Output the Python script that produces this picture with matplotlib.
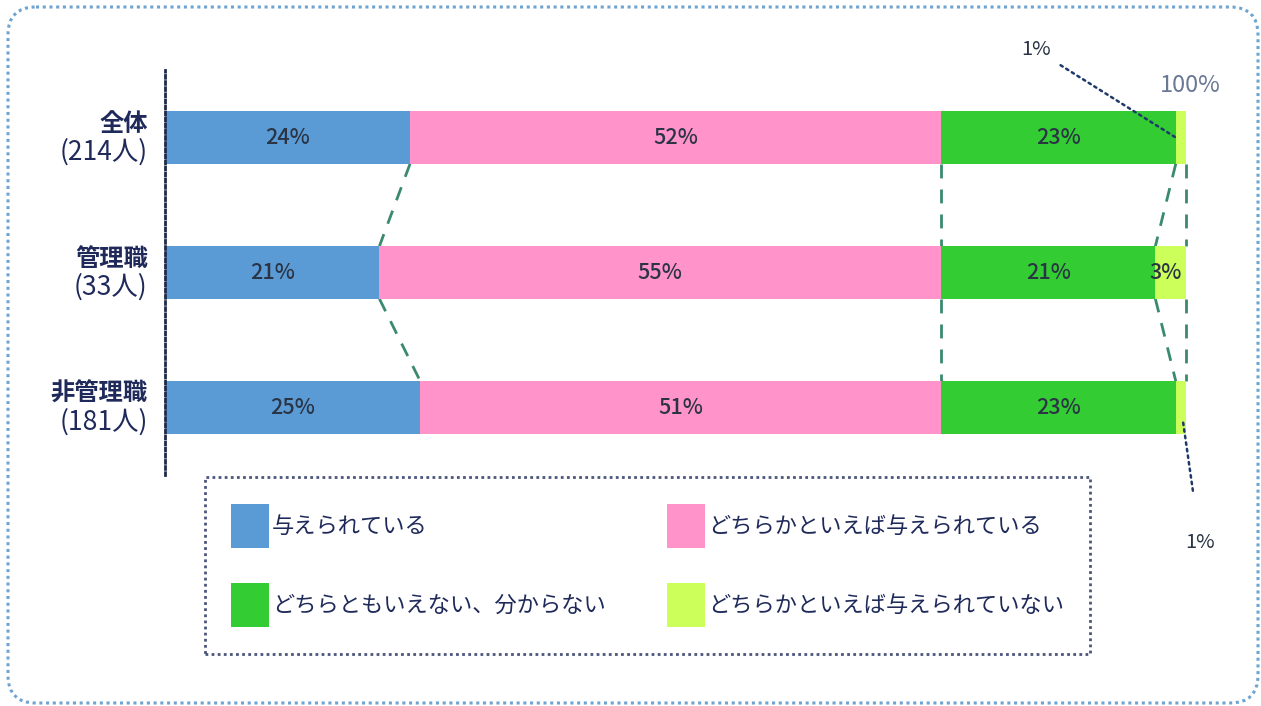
import numpy as np
import matplotlib
matplotlib.use("Agg")
import matplotlib.pyplot as plt
from matplotlib.patches import FancyBboxPatch

plt.rcParams['font.family'] = ['Noto Sans CJK JP', 'DejaVu Sans']

# survey data (%)
groups = ['全体', '管理職', '非管理職']
counts = [214, 33, 181]
answers = ['与えられている', 'どちらかといえば与えられている',
           'どちらともいえない、分からない', 'どちらかといえば与えられていない']
given = [24, 21, 25]
rather_given = [52, 55, 51]
unsure = [23, 21, 23]
rather_not = [1, 3, 1]

colors = ['#5B9BD5', '#FF93CA', '#33CC33', '#CCFF5A']
navy = '#1F2A5A'
pct_color = '#2A3444'
link_color = '#3A8A6E'

series = np.array([given, rather_given, unsure, rather_not], dtype=float)
cum = np.vstack([np.zeros(len(groups)), np.cumsum(series, axis=0)])
bar_h = 0.39

fig = plt.figure(figsize=(12.61, 7.06), dpi=100)

# background frame in pixel coordinates
bg = fig.add_axes([0, 0, 1, 1], zorder=-1)
bg.set_xlim(0, 1261)
bg.set_ylim(706, 0)
bg.axis('off')
bg.add_patch(FancyBboxPatch((8, 7), 1250, 696, boxstyle='round,pad=0,rounding_size=28',
                            fill=False, ec='#6FA3D0', lw=2.2, ls=(0, (1, 1.2))))

ax = fig.add_axes([165 / 1261, 1 - 475 / 706, 1021 / 1261, 405 / 706])
ax.set_facecolor('none')
y = np.arange(len(groups))

bars = []
for k in range(len(answers)):
    b = ax.barh(y, series[k], left=cum[k], height=bar_h, color=colors[k],
                label=answers[k], zorder=2)
    bars.append(b)

# value labels inside the bars (1% slices are annotated outside)
for k in range(len(answers)):
    for i in range(len(groups)):
        v = series[k][i]
        if v < 2:
            continue
        xc = cum[k][i] + v / 2
        if k == 3:
            xc = cum[k][i] + v / 3
        ax.text(xc, i, f'{v:.0f}%', ha='center', va='center',
                fontsize=15.5, color=pct_color, fontweight='medium', zorder=3)

# dashed links between segment boundaries of neighbouring bars
for i in range(len(groups) - 1):
    for k in range(1, len(answers) + 1):
        ax.plot([cum[k][i], cum[k][i + 1]], [i + bar_h / 2, i + 1 - bar_h / 2],
                color=link_color, lw=2, ls=(0, (5, 4)), zorder=1, clip_on=False)

# group labels
for i, (g, n) in enumerate(zip(groups, counts)):
    ax.text(-1.7, i - 0.1, g, ha='right', va='center', fontsize=17.5,
            fontweight='bold', color=navy)
    ax.text(-1.7, i + 0.11, f'({n}人)', ha='right', va='center', fontsize=19,
            color=navy)

# small slices annotated with leader lines
ax.annotate(f'{rather_not[0]}%', xy=(cum[3][0], 0), xytext=(85.3, -0.65),
            ha='center', va='center', fontsize=14.5, color=pct_color,
            annotation_clip=False,
            arrowprops=dict(arrowstyle='-', color='#1F3A6A', lw=1.8, ls=':',
                            shrinkA=6, shrinkB=0))
ax.annotate(f'{rather_not[2]}%', xy=(cum[4][2] - 0.3, 2 + 0.1), xytext=(101.4, 3.0),
            ha='center', va='center', fontsize=14.5, color=pct_color,
            annotation_clip=False,
            arrowprops=dict(arrowstyle='-', color='#1F3A6A', lw=1.8, ls=':',
                            shrinkA=28, shrinkB=0))
ax.text(100.4, -0.385, f'{cum[4][0]:.0f}%', ha='center', va='center',
        fontsize=17, color='#6A7896')

ax.set_xlim(0, 100)
ax.set_ylim(2.5, -0.5)
ax.set_xticks([])
ax.set_yticks([])
for s in ['top', 'right', 'bottom']:
    ax.spines[s].set_visible(False)
ax.spines['left'].set_linestyle((0, (1, 1.2)))
ax.spines['left'].set_linewidth(2)
ax.spines['left'].set_color('#1F2A4A')

handles = [bars[0], bars[2], bars[1], bars[3]]
labels = [answers[0], answers[2], answers[1], answers[3]]
leg = fig.legend(handles, labels, ncol=2, loc='center',
                 bbox_to_anchor=(647.5 / 1261, 1 - 565.5 / 706),
                 fontsize=16, labelcolor=navy, frameon=True, fancybox=False,
                 handlelength=1.71, handleheight=2.67, handletextpad=0.13,
                 columnspacing=2.75, labelspacing=1.58, borderpad=1.2,
                 borderaxespad=0)
frame = leg.get_frame()
frame.set_edgecolor('#1F2A5A')
frame.set_linestyle((0, (1, 1.2)))
frame.set_linewidth(2)
frame.set_facecolor('white')

fig.savefig('out.png', dpi=100)
